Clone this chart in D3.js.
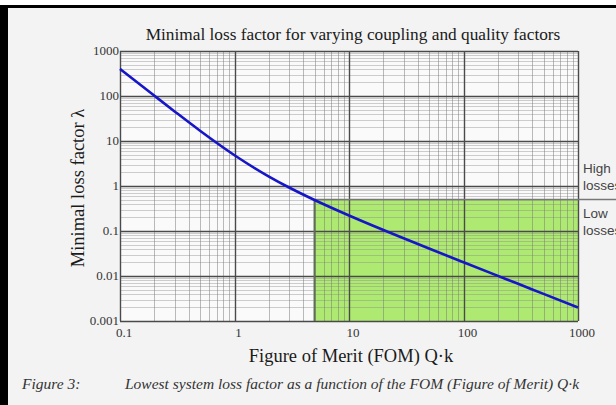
<!DOCTYPE html>
<html>
<head>
<meta charset="utf-8">
<script src="https://cdn.jsdelivr.net/npm/d3@7"></script>
<style>
  html, body { margin: 0; padding: 0; background: #fff; }
  svg { display: block; }
</style>
</head>
<body>
<div class="chart"></div>
<script>
// curve values (figure of merit Q*k -> minimal loss factor)
const fom = [0.1, 0.2, 0.3, 0.5, 1, 2, 3, 5, 10, 20, 30, 50, 100, 200, 300, 500, 1000];
const lossFactor = [401, 101, 45.4, 16.9, 4.83, 1.62, 0.925, 0.488, 0.221, 0.105, 0.069, 0.0408, 0.0202, 0.01005, 0.0067, 0.004, 0.002];
const xTicks = [0.1, 1, 10, 100, 1000];
const yTicks = [0.001, 0.01, 0.1, 1, 10, 100, 1000];
const lowLossRegion = {x0: 5, x1: 1000, y0: 0.001, y1: 0.5};

const WIDTH = 616, HEIGHT = 405;
const plot = {left: 120, right: 578, top: 51, bottom: 321};

const svg = d3.select('.chart').append('svg')
  .attr('width', WIDTH).attr('height', HEIGHT);

// page frame
svg.append('rect').attr('x', 0).attr('y', 5).attr('width', WIDTH).attr('height', HEIGHT - 5).attr('fill', '#000');
svg.append('rect').attr('x', 8).attr('y', 8).attr('width', WIDTH - 8).attr('height', HEIGHT - 8).attr('fill', '#f3f3f3');

const x = d3.scaleLog().domain([0.1, 1000]).range([plot.left, plot.right]);
const y = d3.scaleLog().domain([0.001, 1000]).range([plot.bottom, plot.top]);

svg.append('rect')
  .attr('x', plot.left).attr('y', plot.top)
  .attr('width', plot.right - plot.left).attr('height', plot.bottom - plot.top)
  .attr('fill', '#fafafa');

// low losses region
svg.append('rect')
  .attr('x', x(lowLossRegion.x0)).attr('y', y(lowLossRegion.y1))
  .attr('width', x(lowLossRegion.x1) - x(lowLossRegion.x0))
  .attr('height', y(lowLossRegion.y0) - y(lowLossRegion.y1))
  .attr('fill', '#aeea72');

// minor grid
const minorX = x.ticks().filter(t => !xTicks.includes(t));
const minorY = y.ticks().filter(t => !yTicks.some(v => Math.abs(v - t) / v < 1e-6));

const grid = svg.append('g');
grid.selectAll('line.hminor').data(minorY).enter().append('line')
  .attr('x1', plot.left).attr('x2', plot.right)
  .attr('y1', d => Math.round(y(d)) + 0.5).attr('y2', d => Math.round(y(d)) + 0.5)
  .attr('stroke', '#888').attr('stroke-opacity', 0.4);
grid.selectAll('line.vminor').data(minorX).enter().append('line')
  .attr('y1', plot.top).attr('y2', plot.bottom)
  .attr('x1', d => Math.round(x(d)) + 0.5).attr('x2', d => Math.round(x(d)) + 0.5)
  .attr('stroke', '#777').attr('stroke-opacity', 0.5);

// major grid
grid.selectAll('line.hmajor').data(yTicks).enter().append('line')
  .attr('x1', plot.left).attr('x2', plot.right)
  .attr('y1', d => Math.round(y(d)) + 0.5).attr('y2', d => Math.round(y(d)) + 0.5)
  .attr('stroke', '#4a4a4a').attr('stroke-width', 1.4);
grid.selectAll('line.vmajor').data(xTicks).enter().append('line')
  .attr('y1', plot.top).attr('y2', plot.bottom)
  .attr('x1', d => Math.round(x(d)) + 0.5).attr('x2', d => Math.round(x(d)) + 0.5)
  .attr('stroke', '#4a4a4a').attr('stroke-width', 1.4);

// region borders
svg.append('line')
  .attr('x1', x(lowLossRegion.x0)).attr('x2', x(lowLossRegion.x0))
  .attr('y1', y(lowLossRegion.y1)).attr('y2', plot.bottom)
  .attr('stroke', '#5f6f55').attr('stroke-width', 2);
svg.append('line')
  .attr('x1', x(lowLossRegion.x0)).attr('x2', WIDTH)
  .attr('y1', y(lowLossRegion.y1)).attr('y2', y(lowLossRegion.y1))
  .attr('stroke', '#777').attr('stroke-width', 1.5);

// curve
const line = d3.line()
  .x((d, i) => x(fom[i]))
  .y(d => y(d))
  .curve(d3.curveMonotoneX);
svg.append('path')
  .datum(lossFactor)
  .attr('d', line)
  .attr('fill', 'none')
  .attr('stroke', '#1616c8')
  .attr('stroke-width', 2.6);

// tick labels
const serif = '"Liberation Serif", "Times New Roman", serif';
const fmt = d => d >= 1 ? String(d) : String(+d.toPrecision(1));

svg.selectAll('text.ylab').data(yTicks).enter().append('text')
  .attr('x', plot.left - 1).attr('y', d => y(d) + 4)
  .attr('text-anchor', 'end')
  .attr('font-family', serif).attr('font-size', 13).attr('fill', '#333')
  .text(fmt);

svg.selectAll('text.xlab').data(xTicks).enter().append('text')
  .attr('x', d => x(d) + 4).attr('y', plot.bottom + 16)
  .attr('text-anchor', 'middle')
  .attr('font-family', serif).attr('font-size', 13).attr('fill', '#333')
  .text(fmt);

// titles
svg.append('text')
  .attr('x', 353).attr('y', 40)
  .attr('text-anchor', 'middle')
  .attr('font-family', serif).attr('font-size', 17.3).attr('fill', '#1a1a1a')
  .text('Minimal loss factor for varying coupling and quality factors');

svg.append('text')
  .attr('transform', 'translate(84,188) rotate(-90)')
  .attr('text-anchor', 'middle')
  .attr('font-family', serif).attr('font-size', 18.5).attr('fill', '#1a1a1a')
  .text('Minimal loss factor λ');

svg.append('text')
  .attr('x', 351).attr('y', 362)
  .attr('text-anchor', 'middle')
  .attr('font-family', serif).attr('font-size', 18.5).attr('fill', '#1a1a1a')
  .text('Figure of Merit (FOM) Q·k');

// region labels
const sans = '"Liberation Sans", Arial, sans-serif';
[['High', 173], ['losses', 190], ['Low', 218], ['losses', 235]].forEach(([t, ty]) => {
  svg.append('text')
    .attr('x', 583).attr('y', ty)
    .attr('font-family', sans).attr('font-size', 13.5).attr('fill', '#444')
    .text(t);
});

// caption
svg.append('text')
  .attr('x', 22).attr('y', 389)
  .attr('font-family', serif).attr('font-style', 'italic').attr('font-size', 15.5).attr('fill', '#333')
  .text('Figure 3:');
svg.append('text')
  .attr('x', 125).attr('y', 389)
  .attr('font-family', serif).attr('font-style', 'italic').attr('font-size', 15.5).attr('fill', '#333')
  .text('Lowest system loss factor as a function of the FOM (Figure of Merit) Q·k');
</script>
</body>
</html>
